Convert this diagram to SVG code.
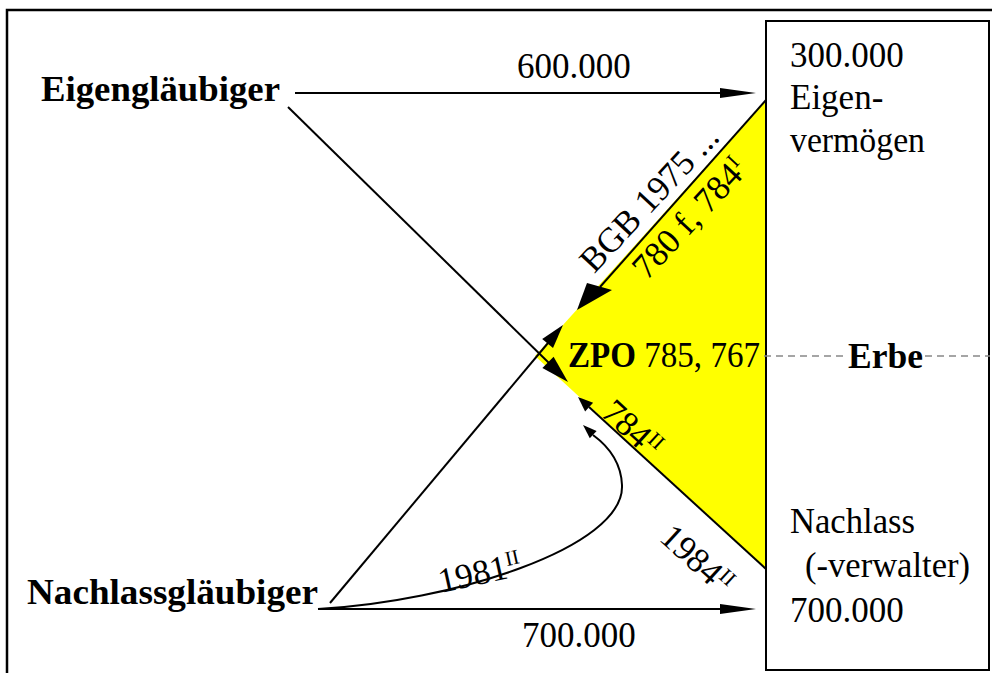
<svg xmlns="http://www.w3.org/2000/svg" width="992" height="673" viewBox="0 0 992 673">
<style>
.t{font-family:"Liberation Serif","Times New Roman",serif;font-size:35px;fill:#000}
.b{font-weight:bold}
.ln{fill:none;stroke:#000;stroke-width:2}
.ah{fill:#000;stroke:none}
.sup{font-size:21px}
</style>
<rect width="992" height="673" fill="#fff"/>
<path d="M7,673 V10 H992" fill="none" stroke="#000" stroke-width="2.5"/>
<g id="zpo-area">
<polygon points="766,100 535,356 766,569" fill="#ffff00"/>
</g>
<g id="erbe-box">
<rect x="766" y="21" width="223" height="649" fill="none" stroke="#000" stroke-width="2"/>
<text class="t" x="790" y="67">300.000</text>
<text class="t" x="790" y="109" font-size="36">Eigen-</text>
<text class="t" x="790" y="152" font-size="36" textLength="135" lengthAdjust="spacingAndGlyphs">vermögen</text>
<text class="t" x="790" y="533" font-size="36" textLength="125" lengthAdjust="spacingAndGlyphs">Nachlass</text>
<text class="t" x="805" y="577" font-size="36" textLength="165" lengthAdjust="spacingAndGlyphs">(-verwalter)</text>
<text class="t" x="790" y="622">700.000</text>
<path d="M764,356 H846 M925,356 H990" fill="none" stroke="#888" stroke-width="1.5" stroke-dasharray="7 5"/>
<text class="t b" x="848" y="368" textLength="75" lengthAdjust="spacingAndGlyphs">Erbe</text>
</g>
<g id="eigenglaeubiger">
<text class="t b" x="41" y="101" font-size="37" textLength="239" lengthAdjust="spacingAndGlyphs">Eigengläubiger</text>
</g>
<g id="nachlassglaeubiger">
<text class="t b" x="27" y="604" font-size="37" textLength="291" lengthAdjust="spacingAndGlyphs">Nachlassgläubiger</text>
</g>
<g id="zpo">
<text class="t" x="568" y="367" font-size="33" textLength="192" lengthAdjust="spacingAndGlyphs"><tspan class="b">ZPO</tspan> 785, 767</text>
</g>
<g id="connectors">
<path class="ln" d="M295,93 H722"/>
<polygon class="ah" points="720,88 756,93 720,98"/>
<path class="ln" d="M318,609 H722"/>
<polygon class="ah" points="720,604 756,609 720,614"/>
<path class="ln" d="M288,107 L550,364"/>
<polygon class="ah" points="542.4,368.1 568,382 553.6,356.7"/>
<path class="ln" d="M330,603 L548,343"/>
<polygon class="ah" points="553,347.9 563,325 542.2,338.9"/>
<path class="ln" d="M766,100 L600,287"/>
<polygon class="ah" points="587,283 577,310 612,290"/>
<path class="ln" d="M766,569 L589,407"/>
<polygon class="ah" points="593.1,402.7 578,397 585.1,411.5"/>
<path class="ln" d="M318,609 C450,602 625,548 622,485 C621,462 608,446 593,435"/>
<polygon class="ah" points="596.6,431 583,425 589.8,438.2"/>
<text class="t" x="517" y="78">600.000</text>
<text class="t" x="522" y="647">700.000</text>
<g transform="translate(765,100) rotate(-47)">
<text class="t" x="-244" y="-6" font-size="34">BGB 1975 ...</text>
<text class="t" x="-213" y="37" font-size="34">780 f, 784<tspan class="sup" dy="-12">I</tspan></text>
</g>
<g transform="translate(578.3,396.7) rotate(42.3)">
<text class="t" x="28" y="-1" font-size="35">784<tspan class="sup" dy="-12">II</tspan></text>
<text class="t" x="155" y="52" font-size="35">1984<tspan class="sup" dy="-12">II</tspan></text>
</g>
<g transform="translate(441,593) rotate(-12.5)">
<text class="t" x="0" y="0" font-size="34">1981<tspan class="sup" dy="-12">II</tspan></text>
</g>
</g>
</svg>
